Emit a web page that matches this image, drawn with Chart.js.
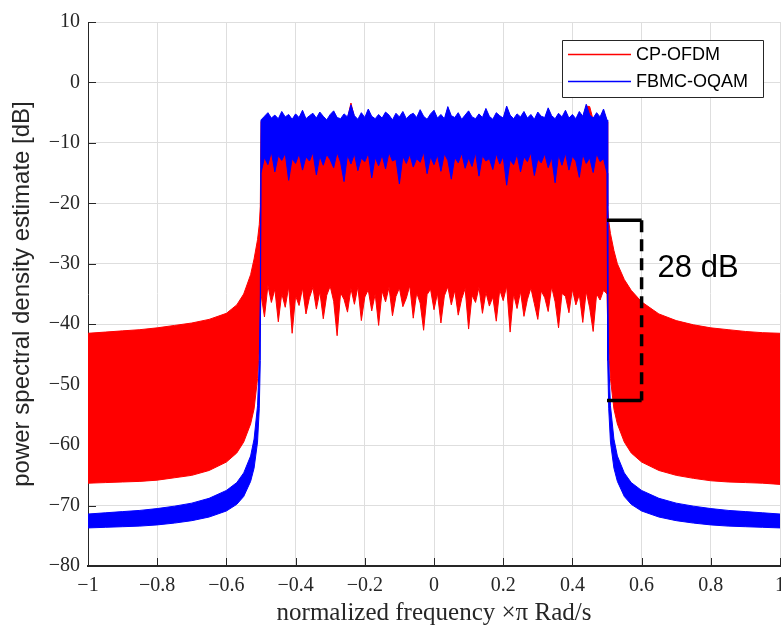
<!DOCTYPE html>
<html>
<head>
<meta charset="utf-8">
<script src="https://cdn.jsdelivr.net/npm/chart.js@4"></script>
<style>
  html, body { margin: 0; padding: 0; background: #fff; overflow: hidden; }
  #wrap { width: 820px; height: 628px; }
</style>
</head>
<body>
<div id="wrap"><canvas id="psd" width="820" height="628"></canvas></div>
<script>
// normalized frequency (x pi rad/s): left stop band, pass band, right stop band
const freq = [
  -1, -0.95, -0.9, -0.85, -0.8, -0.75, -0.7, -0.65, -0.6, -0.57, -0.55, -0.53, -0.52, -0.51, -0.505, -0.502,
  -0.5, -0.49, -0.48, -0.47, -0.46, -0.45, -0.44, -0.43, -0.42, -0.41,
  -0.4, -0.39, -0.38, -0.37, -0.36, -0.35, -0.34, -0.33, -0.32, -0.31,
  -0.3, -0.29, -0.28, -0.27, -0.26, -0.25, -0.24, -0.23, -0.22, -0.21,
  -0.2, -0.19, -0.18, -0.17, -0.16, -0.15, -0.14, -0.13, -0.12, -0.11,
  -0.1, -0.09, -0.08, -0.07, -0.06, -0.05, -0.04, -0.03, -0.02, -0.01,
  0, 0.01, 0.02, 0.03, 0.04, 0.05, 0.06, 0.07, 0.08, 0.09,
  0.1, 0.11, 0.12, 0.13, 0.14, 0.15, 0.16, 0.17, 0.18, 0.19,
  0.2, 0.21, 0.22, 0.23, 0.24, 0.25, 0.26, 0.27, 0.28, 0.29,
  0.3, 0.31, 0.32, 0.33, 0.34, 0.35, 0.36, 0.37, 0.38, 0.39,
  0.4, 0.41, 0.42, 0.43, 0.44, 0.45, 0.46, 0.47, 0.48, 0.49,
  0.5,
  0.502, 0.505, 0.51, 0.52, 0.53, 0.55, 0.57, 0.6, 0.65, 0.7, 0.75, 0.8, 0.85, 0.9, 0.95, 1
];

// CP-OFDM spectrum, upper and lower envelope [dB]
const ofdmUpper = [
  -41.5, -41.3, -41.1, -40.9, -40.6, -40.2, -39.8, -39.2, -38.2, -36.8, -35.0, -31.8, -29.2, -26.0, -23.5, -20.5,
  -6.5, -5.9, -5.3, -6.2, -5.7, -6.3, -5.1, -6.0, -5.6, -6.4,
  -5.5, -6.1, -4.9, -6.3, -5.8, -5.4, -6.2, -5.2, -5.9, -6.5,
  -5.6, -5.0, -6.1, -6.3, -5.5, -6.0, -3.4, -5.8, -6.4, -5.3,
  -6.1, -4.7, -5.9, -6.3, -5.6, -6.2, -5.2, -5.7, -6.5, -5.4,
  -6.0, -5.1, -6.3, -5.7, -5.4, -6.1, -4.8, -5.9, -6.4, -5.5,
  -4.9, -6.2, -5.6, -6.3, -4.3, -5.8, -6.1, -5.3, -6.4, -5.7,
  -5.0, -6.0, -6.3, -5.5, -6.1, -4.6, -5.9, -6.4, -5.3, -5.8,
  -6.2, -4.2, -5.7, -6.3, -5.5, -6.0, -5.1, -6.2, -5.6, -6.4,
  -5.2, -5.9, -6.1, -4.5, -5.8, -6.3, -5.4, -6.0, -4.9, -6.2,
  -5.6, -6.3, -5.1, -5.9, -3.9, -4.0, -6.2, -5.3, -6.0, -4.7,
  -6.5,
  -20.5, -23.0, -25.0, -27.8, -30.0, -32.6, -34.4, -36.3, -38.3, -39.4, -40.1, -40.6, -40.9, -41.2, -41.4, -41.5
];
const ofdmLower = [
  -66.3, -66.2, -66.1, -66.0, -65.8, -65.4, -65.0, -64.2, -62.8, -61.3, -59.5, -56.5, -54.0, -49.0, -44.0, -40.0,
  -35.0, -38.8, -33.6, -36.4, -34.2, -39.6, -34.9, -37.2, -33.8, -41.5,
  -35.3, -36.9, -34.0, -38.3, -35.6, -33.9, -37.5, -34.6, -39.1, -35.2,
  -33.7, -36.2, -41.9, -34.8, -35.9, -38.0, -34.1, -36.7, -33.8, -39.4,
  -35.5, -34.3, -37.8, -35.0, -40.2, -34.5, -36.3, -33.9, -38.6, -35.4,
  -34.0, -37.1, -35.7, -33.6, -39.0, -34.8, -36.5, -41.0, -35.1, -34.2,
  -37.6, -34.9, -39.8, -35.3, -33.8, -36.8, -34.4, -38.5, -35.8, -34.1,
  -40.8, -35.2, -36.4, -33.9, -38.2, -34.7, -37.0, -35.5, -39.5, -34.3,
  -36.1, -33.7, -41.3, -35.0, -37.4, -34.6, -38.7, -35.9, -34.0, -36.6,
  -39.2, -34.5, -35.6, -37.9, -33.8, -36.3, -40.6, -34.9, -35.4, -38.1,
  -34.2, -36.8, -35.1, -39.7, -34.6, -37.3, -41.2, -35.0, -36.0, -34.4,
  -35.0,
  -40.0, -44.0, -49.0, -54.0, -56.5, -59.5, -61.3, -62.8, -64.2, -65.0, -65.5, -65.9, -66.1, -66.2, -66.3, -66.5
];

// FBMC-OQAM spectrum, upper and lower envelope [dB]
const fbmcUpper = [
  -71.4, -71.2, -71.0, -70.8, -70.5, -70.1, -69.6, -68.8, -67.5, -66.2, -64.6, -61.8, -59.0, -53.5, -46.0, -35.0,
  -6.2, -5.6, -5.0, -5.9, -5.4, -6.0, -4.8, -5.7, -5.3, -6.1,
  -5.2, -5.8, -4.6, -6.0, -5.5, -5.1, -5.9, -4.9, -5.6, -6.2,
  -5.3, -4.7, -5.8, -6.0, -5.2, -5.7, -3.7, -5.5, -6.1, -5.0,
  -5.8, -4.4, -5.6, -6.0, -5.3, -5.9, -4.9, -5.4, -6.2, -5.1,
  -5.7, -4.8, -6.0, -5.4, -5.1, -5.8, -4.5, -5.6, -6.1, -5.2,
  -4.6, -5.9, -5.3, -6.0, -4.0, -5.5, -5.8, -5.0, -6.1, -5.4,
  -4.7, -5.7, -6.0, -5.2, -5.8, -4.3, -5.6, -6.1, -5.0, -5.5,
  -5.9, -3.9, -5.4, -6.0, -5.2, -5.7, -4.8, -5.9, -5.3, -6.1,
  -4.9, -5.6, -5.8, -4.2, -5.5, -6.0, -5.1, -5.7, -4.6, -5.9,
  -5.3, -6.0, -4.8, -5.6, -3.6, -5.4, -5.9, -5.0, -5.7, -4.4,
  -6.2,
  -35.0, -46.0, -53.5, -59.0, -61.8, -64.6, -66.2, -67.5, -68.8, -69.6, -70.1, -70.5, -70.8, -71.0, -71.2, -71.4
];
const fbmcLower = [
  -73.7, -73.6, -73.5, -73.4, -73.2, -72.9, -72.5, -71.9, -70.9, -69.8, -68.5, -66.0, -63.8, -59.5, -54.0, -46.0,
  -15.0, -12.4, -13.6, -11.5, -14.8, -12.1, -12.9, -11.7, -16.2, -12.6,
  -13.4, -11.8, -14.5, -12.3, -13.0, -11.6, -15.3, -12.2, -13.7, -11.9,
  -12.8, -14.1, -11.6, -13.2, -16.4, -12.0, -13.5, -11.8, -14.6, -12.5,
  -13.1, -11.7, -15.8, -12.4, -13.8, -12.0, -14.3, -11.6, -13.0, -12.7,
  -16.8, -12.2, -13.4, -11.9, -14.0, -12.6, -13.2, -11.5, -15.1, -12.3,
  -13.6, -12.0, -14.7, -11.8, -12.9, -16.0, -12.4, -13.3, -11.7, -14.2,
  -12.5, -13.9, -11.6, -15.5, -12.1, -13.0, -12.6, -14.4, -11.8, -13.5,
  -12.2, -17.0, -12.8, -13.6, -11.9, -14.8, -12.3, -13.1, -11.6, -15.4,
  -12.7, -13.3, -11.8, -14.1, -12.4, -16.6, -12.0, -13.7, -11.7, -14.5,
  -12.2, -13.0, -15.7, -11.9, -13.4, -12.5, -14.9, -11.8, -13.1, -12.6,
  -15.0,
  -46.0, -54.0, -59.5, -63.8, -66.0, -68.5, -69.8, -70.9, -71.9, -72.5, -72.9, -73.2, -73.4, -73.5, -73.6, -73.7
];

const seriesNames = ["CP-OFDM", "FBMC-OQAM"];
const seriesColors = ["#ff0000", "#0000ff"];

const xTicks = [-1, -0.8, -0.6, -0.4, -0.2, 0, 0.2, 0.4, 0.6, 0.8, 1];
const xTickLabels = ["\u22121", "\u22120.8", "\u22120.6", "\u22120.4", "\u22120.2", "0", "0.2", "0.4", "0.6", "0.8", "1"];
const yTicks = [-80, -70, -60, -50, -40, -30, -20, -10, 0, 10];
const yTickLabels = ["\u221280", "\u221270", "\u221260", "\u221250", "\u221240", "\u221230", "\u221220", "\u221210", "0", "10"];

// 28 dB gap marker: from the OFDM edge level down to the FBMC level
const gapX = [0.5, 0.6];
const gapY = [-22.8, -52.6];
const gapLabel = "28 dB";

const axisColor = "#262626";
const serif = "'Liberation Serif', 'Times New Roman', serif";
const sans = "'Liberation Sans', Arial, sans-serif";

function points(values) {
  return freq.map((f, i) => ({ x: f, y: values[i] }));
}

function band(values, color, fill) {
  return {
    data: points(values),
    borderColor: color,
    backgroundColor: color,
    borderWidth: 1,
    pointRadius: 0,
    tension: 0,
    fill: fill,
  };
}

const extras = {
  id: "extras",
  beforeDatasetsDraw(chart) {
    // MATLAB style inward ticks
    const { ctx, chartArea, scales } = chart;
    ctx.save();
    ctx.strokeStyle = axisColor;
    ctx.lineWidth = 1;
    ctx.beginPath();
    xTicks.forEach((v) => {
      const px = Math.round(scales.x.getPixelForValue(v)) + 0.5;
      ctx.moveTo(px, chartArea.bottom);
      ctx.lineTo(px, chartArea.bottom - 8);
    });
    yTicks.forEach((v) => {
      const py = Math.round(scales.y.getPixelForValue(v)) + 0.5;
      ctx.moveTo(chartArea.left, py);
      ctx.lineTo(chartArea.left + 8, py);
    });
    ctx.stroke();
    ctx.restore();
  },
  afterDraw(chart) {
    const { ctx, scales } = chart;
    const x = scales.x, y = scales.y;
    ctx.save();

    // gap marker
    const x0 = x.getPixelForValue(gapX[0]);
    const x1 = x.getPixelForValue(gapX[1]);
    const yTop = y.getPixelForValue(gapY[0]);
    const yBot = y.getPixelForValue(gapY[1]);
    ctx.strokeStyle = "#000";
    ctx.lineWidth = 3.5;
    ctx.lineJoin = "round";
    ctx.beginPath();
    ctx.moveTo(x0, yTop);
    ctx.lineTo(x1, yTop);
    ctx.moveTo(x0, yBot);
    ctx.lineTo(x1, yBot);
    ctx.stroke();
    ctx.setLineDash([12, 7]);
    ctx.beginPath();
    ctx.moveTo(x1, yTop);
    ctx.lineTo(x1, yBot);
    ctx.stroke();
    ctx.setLineDash([]);
    ctx.fillStyle = "#000";
    ctx.font = "31px " + sans;
    ctx.textBaseline = "alphabetic";
    ctx.fillText(gapLabel, x1 + 16, (yTop + yBot) / 2 - 33);

    // legend box
    ctx.fillStyle = "#fff";
    ctx.fillRect(562.5, 40.5, 201, 57);
    ctx.strokeStyle = axisColor;
    ctx.lineWidth = 1;
    ctx.strokeRect(562.5, 40.5, 201, 57);
    ctx.font = "18px " + sans;
    ctx.textBaseline = "middle";
    seriesNames.forEach((name, i) => {
      const ly = 54.5 + i * 27;
      ctx.strokeStyle = seriesColors[i];
      ctx.lineWidth = 1.5;
      ctx.beginPath();
      ctx.moveTo(568, ly);
      ctx.lineTo(631, ly);
      ctx.stroke();
      ctx.fillStyle = "#000";
      ctx.fillText(name, 636, ly + 1);
    });
    ctx.restore();
  },
};

new Chart(document.getElementById("psd"), {
  type: "line",
  data: {
    datasets: [
      band(fbmcUpper, seriesColors[1], "+1"),
      band(fbmcLower, seriesColors[1], false),
      band(ofdmUpper, seriesColors[0], "+1"),
      band(ofdmLower, seriesColors[0], false),
    ],
  },
  options: {
    responsive: false,
    animation: false,
    devicePixelRatio: 1,
    layout: { padding: { top: 22, right: 40, left: 0, bottom: 0 } },
    plugins: {
      legend: { display: false },
      tooltip: { enabled: false },
    },
    scales: {
      x: {
        type: "linear",
        min: -1,
        max: 1,
        afterBuildTicks: (s) => { s.ticks = xTicks.map((v) => ({ value: v })); },
        afterFit: (s) => { s.height = 62; },
        ticks: {
          autoSkip: false,
          maxRotation: 0,
          padding: 8,
          color: axisColor,
          font: { family: serif, size: 20 },
          callback: (v, i) => xTickLabels[i],
        },
        grid: { color: "#dedede", drawTicks: false },
        border: { color: axisColor, width: 2 },
        title: {
          display: true,
          text: "normalized frequency \u00d7\u03c0 Rad/s",
          color: axisColor,
          font: { family: serif, size: 25 },
          padding: { top: 0, bottom: 0 },
        },
      },
      y: {
        type: "linear",
        min: -80,
        max: 10,
        afterBuildTicks: (s) => { s.ticks = yTicks.map((v) => ({ value: v })); },
        afterFit: (s) => { s.width = 88; },
        ticks: {
          autoSkip: false,
          padding: 8,
          color: axisColor,
          font: { family: serif, size: 20 },
          callback: (v, i) => yTickLabels[i],
        },
        grid: { color: "#dedede", drawTicks: false },
        border: { color: axisColor, width: 1 },
        title: {
          display: true,
          text: "power spectral density estimate [dB]",
          color: axisColor,
          font: { family: sans, size: 24 },
          padding: { top: 8, bottom: 0 },
        },
      },
    },
  },
  plugins: [extras],
});
</script>
</body>
</html>
